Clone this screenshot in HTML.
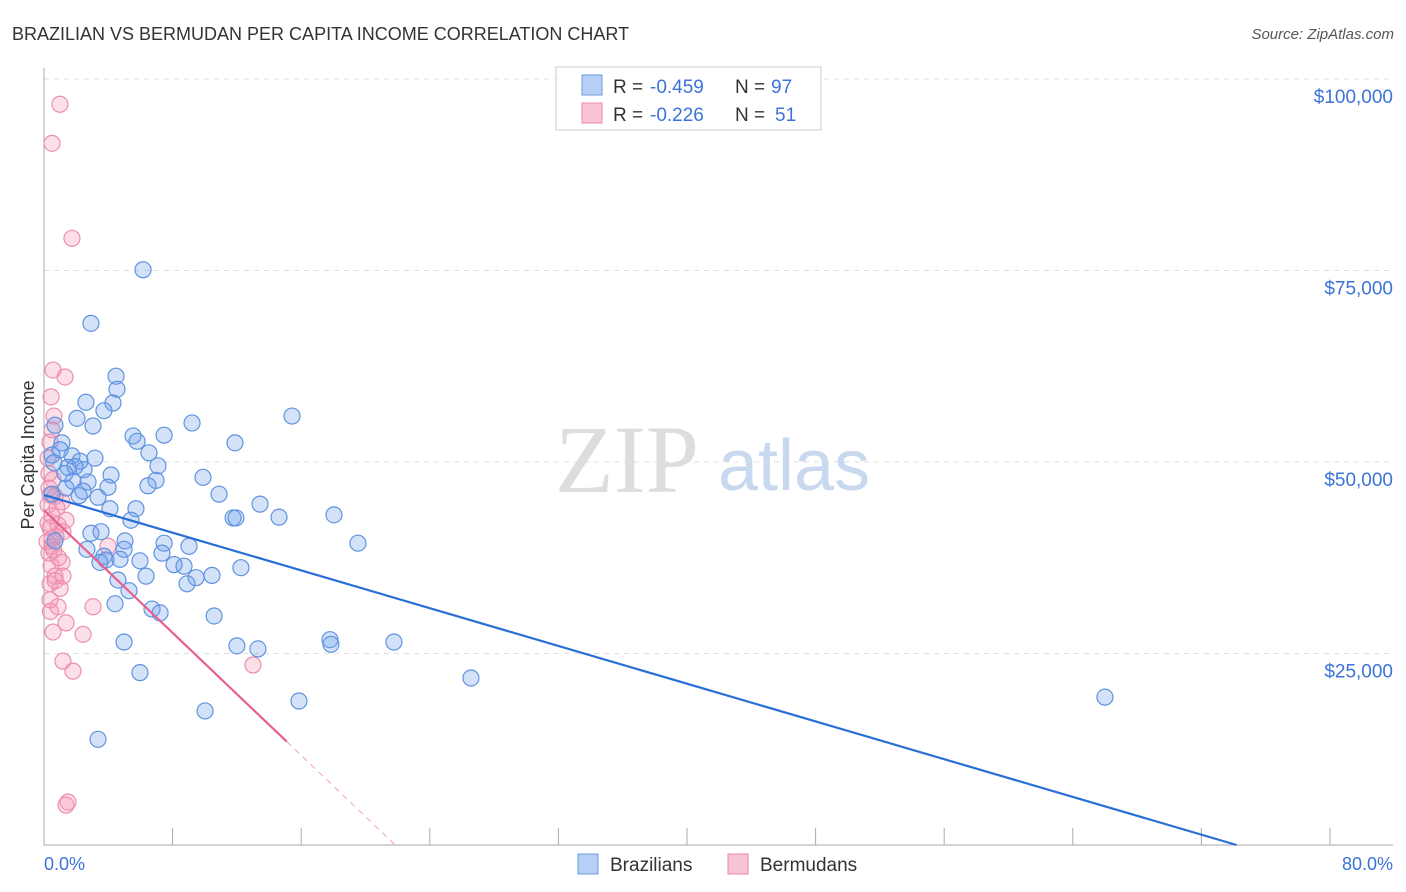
<!DOCTYPE html>
<html><head><meta charset="utf-8"><style>
body{margin:0;background:#fff;font-family:"Liberation Sans",sans-serif;}
svg{display:block}
</style></head><body>
<svg id="chart" width="1406" height="892">
<text x="12" y="40" font-size="18" fill="#333">BRAZILIAN VS BERMUDAN PER CAPITA INCOME CORRELATION CHART</text>
<text x="1394" y="39" font-size="15" fill="#555" font-style="italic" text-anchor="end">Source: ZipAtlas.com</text>
<text x="555" y="492" font-size="96" fill="#ddd" font-family="Liberation Serif,serif">ZIP</text>
<text x="718" y="490" font-size="72" fill="#c8d8ee">atlas</text>
<g id="grid"></g><g id="axes"></g><g id="pts"></g><g id="lines"></g>
<text transform="translate(34,455) rotate(-90)" font-size="18" fill="#333" text-anchor="middle">Per Capita Income</text>
<text x="44" y="870" font-size="18" fill="#3b73d9">0.0%</text>
<text x="1393" y="870" font-size="18" fill="#3b73d9" text-anchor="end">80.0%</text>
<g>
<rect x="556" y="67" width="265" height="63" fill="#fff" stroke="#ccc"/>
<rect x="582" y="75" width="20" height="20" fill="#b8d0f5" stroke="#6a9be0"/>
<rect x="582" y="103" width="20" height="20" fill="#f9c5d5" stroke="#e88aa8"/>
<text x="613" y="93" font-size="19" fill="#333">R =</text>
<text x="650" y="93" font-size="19" fill="#3b73d9">-0.459</text>
<text x="735" y="93" font-size="19" fill="#333">N =</text>
<text x="771" y="93" font-size="19" fill="#3b73d9">97</text>
<text x="613" y="121" font-size="19" fill="#333">R =</text>
<text x="650" y="121" font-size="19" fill="#3b73d9">-0.226</text>
<text x="735" y="121" font-size="19" fill="#333">N =</text>
<text x="775" y="121" font-size="19" fill="#3b73d9">51</text>
</g>
<g>
<rect x="578" y="854" width="20" height="20" fill="#b8d0f5" stroke="#6a9be0"/>
<text x="610" y="871" font-size="19" fill="#333">Brazilians</text>
<rect x="728" y="854" width="20" height="20" fill="#f9c5d5" stroke="#e88aa8"/>
<text x="760" y="871" font-size="19" fill="#333">Bermudans</text>
</g>
</svg>
<script>
const yTicks=[25000,50000,75000,100000];
const yTickLabels=["$25,000","$50,000","$75,000","$100,000"];
const bx=[6.16,2.92,4.48,4.54,4.29,2.61,3.73,15.43,2.05,3.05,0.68,9.21,7.47,5.54,5.79,11.88,1.12,1.0,6.53,0.5,1.74,3.17,2.24,0.62,7.09,1.49,2.49,1.93,4.17,9.89,1.8,2.74,6.97,6.47,3.98,1.37,2.43,2.18,3.36,10.89,0.5,13.44,4.1,5.72,18.04,14.62,11.76,11.94,5.41,2.92,3.55,5.04,19.53,7.47,9.02,2.67,4.98,7.34,3.73,3.86,5.97,3.48,4.73,8.09,8.71,12.25,6.35,10.45,9.46,8.9,4.6,5.29,4.42,6.72,7.22,10.58,4.98,17.79,17.85,21.77,12.0,13.31,5.97,26.56,66.0,15.86,10.02,3.36,0.68,1.3];
const by=[75.1,68.1,61.2,59.5,57.7,57.8,56.7,56.0,55.7,54.7,54.8,55.1,53.5,53.4,52.7,52.5,52.5,51.6,51.2,50.9,50.8,50.5,50.1,49.9,49.5,49.3,49.0,49.4,48.3,48.0,47.5,47.4,47.6,46.9,46.7,46.6,46.2,45.6,45.4,45.8,45.8,44.5,43.9,43.9,43.1,42.8,42.7,42.7,42.4,40.7,40.9,39.7,39.4,39.4,39.0,38.6,38.6,38.1,37.7,37.2,37.1,36.9,37.3,36.6,36.4,36.2,35.1,35.2,34.9,34.1,34.6,33.2,31.5,30.8,30.3,29.9,26.5,26.8,26.2,26.5,26.0,25.6,22.5,21.8,19.3,18.8,17.5,13.8,39.7,48.5];
const px=[0.99,0.5,1.74,0.56,1.31,0.44,0.62,0.5,0.37,0.25,0.56,0.31,0.68,0.37,1.12,0.25,0.5,1.37,0.87,0.37,1.18,0.75,0.19,0.5,3.98,0.31,1.12,0.44,0.68,1.18,0.37,0.37,0.87,3.05,1.37,0.56,2.43,1.18,1.8,13.0,1.49,1.37,0.3,0.8,0.5,0.6,0.9,0.25,1.0,0.4,0.7];
const py=[96.7,91.6,79.2,62.0,61.1,58.5,56.0,54.2,52.6,50.5,47.7,46.6,45.5,45.7,44.8,44.4,43.0,42.4,41.8,41.4,40.9,40.3,39.6,39.0,39.0,38.1,36.9,36.5,35.1,35.1,34.1,32.0,31.1,31.1,29.0,27.8,27.5,24.0,22.7,23.5,5.6,5.2,48.5,44.0,40.0,38.5,37.5,42.0,33.5,30.5,34.5];
const blueFit=[45.7,-0.616];
const pinkFit=[43.7,-2.0];
const X=v=>44+v*1286/80, Y=v=>845-v*1000*766/100000;
const NS="http://www.w3.org/2000/svg";
function mk(p,t,a){const e=document.createElementNS(NS,t);for(const k in a)e.setAttribute(k,a[k]);document.getElementById(p).appendChild(e);return e;}
yTicks.forEach((t,i)=>{
 const g=mk('grid','line',{x1:44,x2:1393,y1:Y(t/1000),y2:Y(t/1000),stroke:'#ddd','stroke-dasharray':'5,5'});
 
 
 const l=mk('grid','text',{x:1393,y:Y(t/1000)+24,'font-size':19,fill:'#3b73d9','text-anchor':'end'});
 l.textContent=yTickLabels[i];
 
 
});
const ax=mk('axes','line',{x1:44,x2:44,y1:68,y2:845,stroke:'#aaa'});


const xa=mk('axes','line',{x1:44,x2:1393,y1:845,y2:845,stroke:'#aaa'});


for(let i=1;i<=10;i++){const tk=mk('axes','line',{x1:X(i*8),x2:X(i*8),y1:828,y2:845,stroke:'#aaa'});
 
 }
px.forEach((v,i)=>{const c=mk('pts','circle',{cx:X(v),cy:Y(py[i]),r:8,fill:'rgba(244,150,180,0.3)',stroke:'#ec8fae','stroke-width':1.2});
 
 });
bx.forEach((v,i)=>{const c=mk('pts','circle',{cx:X(v),cy:Y(by[i]),r:8,fill:'rgba(110,160,235,0.3)',stroke:'#5f93e0','stroke-width':1.2});
 
 });
const bz=-blueFit[0]/blueFit[1];
const bl=mk('lines','line',{x1:X(0),y1:Y(blueFit[0]),x2:X(bz),y2:Y(0),stroke:'#2a6fd6','stroke-width':2.2});


const pz=-pinkFit[0]/pinkFit[1], pe=15.1;
const pl=mk('lines','line',{x1:X(0),y1:Y(pinkFit[0]),x2:X(pe),y2:Y(pinkFit[0]+pinkFit[1]*pe),stroke:'#e8608e','stroke-width':2.2});


const pd=mk('lines','line',{x1:X(pe),y1:Y(pinkFit[0]+pinkFit[1]*pe),x2:X(pz),y2:Y(0),stroke:'#f0a0ba','stroke-width':1,'stroke-dasharray':'6,5'});


</script>
</body></html>
